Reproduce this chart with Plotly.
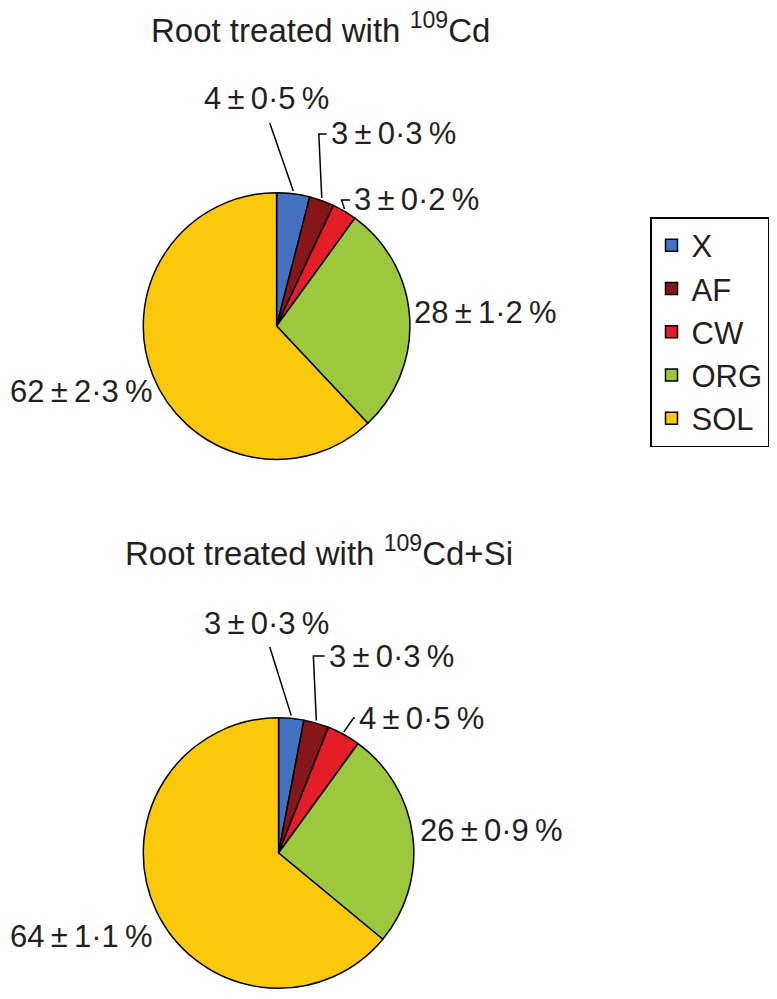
import math
import plotly.graph_objects as go

# page is 777x999; the browser body has an 8px margin round the figure
PAGE_W, PAGE_H, OFF = 777, 999, 8
W, H = PAGE_W - 2 * OFF, PAGE_H - 2 * OFF

# data
components = ['X', 'AF', 'CW', 'ORG', 'SOL']
colors = ['#4470c0', '#861619', '#e41e26', '#9bc83c', '#fcc80c']
cd_mean = [4, 3, 3, 28, 62]
cd_err = [0.5, 0.3, 0.2, 1.2, 2.3]
cdsi_mean = [3, 3, 4, 26, 64]
cdsi_err = [0.3, 0.3, 0.5, 0.9, 1.1]

FONT = 'Liberation Sans, Arial, sans-serif'
INK = '#231f20'


def fmt(m, e):
    return f"{m}\u2009±\u2009{str(e).replace('.', '·')}\u2009%"


def px(x, y):
    """page pixel -> paper coords"""
    return (x - OFF) / W, 1 - (y - OFF) / H


# pies: centre and radius in page pixels, label placement per slice
pies = [
    dict(title='Root treated with <sup>109</sup>Cd', title_xy=(327, 28),
         cx=282, cy=326, r=136, mean=cd_mean, err=cd_err,
         labels=[((272, 99), 'line', 0), ((401, 134), 'elbow', -3),
                  ((425, 200), 'elbow', -3), ((495, 312), None, 0),
                  ((82, 392), None, 0)]),
    dict(title='Root treated with <sup>109</sup>Cd+Si', title_xy=(325, 551),
         cx=284, cy=853, r=138, mean=cdsi_mean, err=cdsi_err,
         labels=[((272, 623), 'line', 0), ((399, 656), 'elbow', -3),
                  ((430, 718), 'elbow', 10), ((501, 830), None, 0),
                  ((82, 936), None, 0)]),
]

fig = go.Figure()
annotations = []
shapes = []

for i, p in enumerate(pies):
    x0, y1 = px(p['cx'] - p['r'], p['cy'] - p['r'])
    x1, y0 = px(p['cx'] + p['r'], p['cy'] + p['r'])
    fig.add_trace(go.Pie(
        labels=components,
        values=p['mean'],
        sort=False,
        direction='clockwise',
        rotation=0,
        textinfo='none',
        hoverinfo='label+percent',
        marker=dict(colors=colors, line=dict(color='#000000', width=1.5)),
        domain=dict(x=[x0, x1], y=[y0, y1]),
        showlegend=(i == 0),
    ))

    tx, ty = px(*p['title_xy'])
    annotations.append(dict(text=p['title'], x=tx, y=ty, xref='paper', yref='paper',
                            xanchor='center', yanchor='middle', showarrow=False,
                            font=dict(size=33, color=INK, family=FONT)))

    total = sum(p['mean'])
    cum = 0
    for m, e, (pos, kind, dx) in zip(p['mean'], p['err'], p['labels']):
        theta = 2 * math.pi * (cum + m / 2) / total
        cum += m
        ex = p['cx'] + p['r'] * math.sin(theta)
        ey = p['cy'] - p['r'] * math.cos(theta)
        lx, ly = pos
        ax, ay = px(lx, ly)
        annotations.append(dict(text=fmt(m, e), x=ax, y=ay, xref='paper', yref='paper',
                                xanchor='center', yanchor='middle', showarrow=False,
                                font=dict(size=31, color=INK, family=FONT)))
        if kind == 'line':
            sx, sy = px(lx + 3, ly + 24)
            exx, eyy = px(ex, ey)
            shapes.append(dict(type='line', xref='paper', yref='paper',
                               x0=sx, y0=sy, x1=exx, y1=eyy,
                               line=dict(color='#000000', width=1.5)))
        elif kind == 'elbow':
            left = lx - 62 - 6
            pts = [px(ex, ey), px(ex + dx, ly), px(left, ly)]
            path = 'M ' + ' L '.join(f'{a},{b}' for a, b in pts)
            shapes.append(dict(type='path', xref='paper', yref='paper', path=path,
                               line=dict(color='#000000', width=1.5)))

lgx, lgy = px(663, 217)
fig.update_layout(
    width=W, height=H,
    margin=dict(l=0, r=0, t=0, b=0),
    paper_bgcolor='white',
    plot_bgcolor='white',
    font=dict(family=FONT, color=INK, size=31),
    annotations=annotations,
    shapes=shapes,
    legend=dict(x=lgx, y=lgy, xanchor='left', yanchor='top',
                bordercolor='#000000', borderwidth=1.5,
                font=dict(size=31, color=INK, family=FONT),
                traceorder='normal', tracegroupgap=0),
)

fig.write_html('out.html')
